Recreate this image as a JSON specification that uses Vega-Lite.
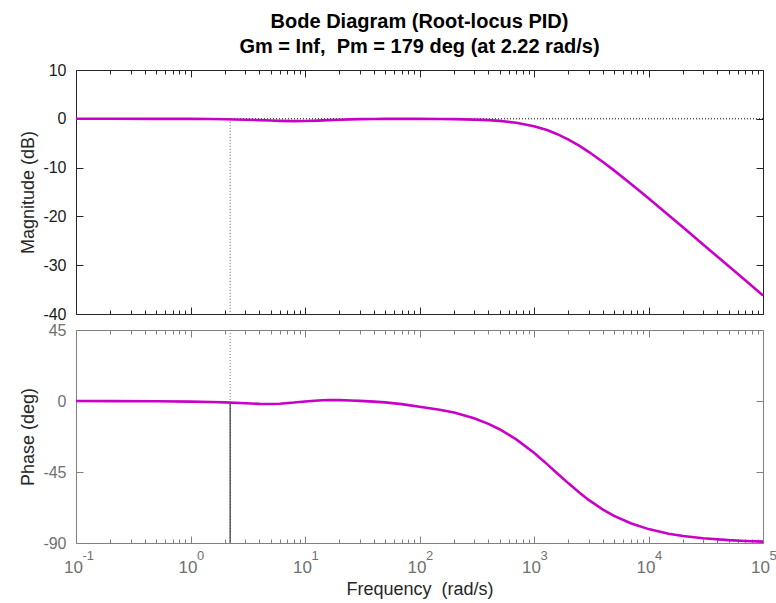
{
  "$schema": "https://vega.github.io/schema/vega-lite/v6.json",
  "autosize": {"type": "pad"},
  "padding": {"left": 19, "top": 12, "right": 2, "bottom": 2},
  "spacing": 0,
  "datasets": {
    "bode": [
      {"w": 0.1, "mag": 0, "phase": 0},
      {"w": 0.2, "mag": 0, "phase": -0.05},
      {"w": 0.5, "mag": -0.01, "phase": -0.15},
      {"w": 1, "mag": -0.02, "phase": -0.4},
      {"w": 1.5, "mag": -0.05, "phase": -0.65},
      {"w": 2, "mag": -0.09, "phase": -0.9},
      {"w": 3, "mag": -0.18, "phase": -1.4},
      {"w": 4, "mag": -0.28, "phase": -1.8},
      {"w": 5, "mag": -0.36, "phase": -1.9},
      {"w": 6, "mag": -0.42, "phase": -1.7},
      {"w": 8, "mag": -0.48, "phase": -1.0},
      {"w": 10, "mag": -0.46, "phase": -0.3},
      {"w": 13, "mag": -0.38, "phase": 0.3},
      {"w": 16, "mag": -0.28, "phase": 0.6},
      {"w": 20, "mag": -0.18, "phase": 0.55},
      {"w": 25, "mag": -0.11, "phase": 0.35},
      {"w": 30, "mag": -0.07, "phase": 0.1},
      {"w": 40, "mag": -0.03, "phase": -0.4},
      {"w": 50, "mag": -0.02, "phase": -0.9},
      {"w": 70, "mag": -0.02, "phase": -2.0},
      {"w": 100, "mag": -0.02, "phase": -3.7},
      {"w": 150, "mag": -0.04, "phase": -5.5},
      {"w": 200, "mag": -0.07, "phase": -7.35},
      {"w": 300, "mag": -0.16, "phase": -10.95},
      {"w": 400, "mag": -0.28, "phase": -14.5},
      {"w": 500, "mag": -0.43, "phase": -17.9},
      {"w": 700, "mag": -0.81, "phase": -24.3},
      {"w": 1000, "mag": -1.51, "phase": -32.8},
      {"w": 1300, "mag": -2.31, "phase": -40.0},
      {"w": 1600, "mag": -3.15, "phase": -45.9},
      {"w": 2000, "mag": -4.26, "phase": -52.2},
      {"w": 2500, "mag": -5.56, "phase": -58.2},
      {"w": 3000, "mag": -6.76, "phase": -62.7},
      {"w": 4000, "mag": -8.84, "phase": -68.8},
      {"w": 5000, "mag": -10.57, "phase": -72.8},
      {"w": 7000, "mag": -13.3, "phase": -77.5},
      {"w": 10000, "mag": -16.29, "phase": -81.2},
      {"w": 15000, "mag": -19.76, "phase": -84.1},
      {"w": 20000, "mag": -22.24, "phase": -85.6},
      {"w": 30000, "mag": -25.75, "phase": -87.0},
      {"w": 50000, "mag": -30.18, "phase": -88.2},
      {"w": 70000, "mag": -33.1, "phase": -88.7},
      {"w": 100000, "mag": -36.19, "phase": -89.1}
    ],
    "margin": [
      {"w": 2.22, "mag": 0, "magLow": -40, "phase": -1.0, "phaseTop": 45, "phaseLow": -90}
    ],
    "zero": [
      {"mag": 0}
    ]
  },
  "vconcat": [
    {
      "title": {
        "text": ["Bode Diagram (Root-locus PID)", "Gm = Inf,\u00a0 Pm = 179 deg (at 2.22 rad/s)"],
        "frame": "group",
        "anchor": "middle",
        "fontSize": 20,
        "fontWeight": "bold",
        "color": "#000000",
        "lineHeight": 25,
        "offset": 5
      },
      "width": 687,
      "height": 244,
      "layer": [
        {
          "data": {"name": "zero"},
          "mark": {"type": "rule", "color": "#000000", "strokeWidth": 1, "strokeDash": [1, 2]},
          "encoding": {
            "y": {"field": "mag", "type": "quantitative", "scale": {"domain": [-40, 10]}, "axis": null}
          }
        },
        {
          "data": {"name": "margin"},
          "mark": {"type": "rule", "color": "#555555", "strokeWidth": 1, "strokeDash": [1, 2]},
          "encoding": {
            "x": {"field": "w", "type": "quantitative", "scale": {"type": "log", "domain": [0.1, 100000], "nice": false},
              "axis": {"orient": "top", "title": null, "labels": false,
                "values": [0.1,0.2,0.3,0.4,0.5,0.6,0.7,0.8,0.9,1,2,3,4,5,6,7,8,9,10,20,30,40,50,60,70,80,90,100,200,300,400,500,600,700,800,900,1000,2000,3000,4000,5000,6000,7000,8000,9000,10000,20000,30000,40000,50000,60000,70000,80000,90000,100000],
                "tickSize": {"condition": {"test": "abs(log(datum.value)/LN10 - round(log(datum.value)/LN10)) < 0.001", "value": -7}, "value": -4},
                "domainColor": "#262626", "tickColor": "#262626"}},
            "y": {"field": "mag", "type": "quantitative", "scale": {"domain": [-40, 10]},
              "axis": {"orient": "right", "title": null, "labels": false, "values": [-40, -30, -20, -10, 0, 10],
                "tickSize": -7, "domainColor": "#262626", "tickColor": "#262626"}},
            "y2": {"field": "magLow"}
          }
        },
        {
          "data": {"name": "bode"},
          "mark": {"type": "line", "color": "#C800C8", "strokeWidth": 2.6},
          "encoding": {
            "x": {"field": "w", "type": "quantitative", "scale": {"type": "log", "domain": [0.1, 100000], "nice": false},
              "axis": {"orient": "bottom", "title": null, "labels": false,
                "values": [0.1,0.2,0.3,0.4,0.5,0.6,0.7,0.8,0.9,1,2,3,4,5,6,7,8,9,10,20,30,40,50,60,70,80,90,100,200,300,400,500,600,700,800,900,1000,2000,3000,4000,5000,6000,7000,8000,9000,10000,20000,30000,40000,50000,60000,70000,80000,90000,100000],
                "tickSize": {"condition": {"test": "abs(log(datum.value)/LN10 - round(log(datum.value)/LN10)) < 0.001", "value": -7}, "value": -4},
                "domainColor": "#262626", "tickColor": "#262626"}},
            "y": {"field": "mag", "type": "quantitative", "scale": {"domain": [-40, 10]},
              "axis": {"orient": "left", "title": "Magnitude (dB)", "values": [-40, -30, -20, -10, 0, 10],
                "labelExpr": "'' + datum.value", "labelFontSize": 16,
                "tickSize": -7, "labelPadding": 17, "titlePadding": 5,
                "domainColor": "#262626", "tickColor": "#262626", "labelColor": "#1a1a1a", "titleColor": "#262626"}}
          }
        }
      ],
      "resolve": {"axis": {"x": "independent", "y": "independent"}}
    },
    {
      "width": 687,
      "height": 213,
      "layer": [
        {
          "data": {"name": "margin"},
          "mark": {"type": "rule", "color": "#707070", "strokeWidth": 1, "strokeDash": [1, 2]},
          "encoding": {
            "x": {"field": "w", "type": "quantitative", "scale": {"type": "log", "domain": [0.1, 100000], "nice": false},
              "axis": {"orient": "top", "title": null, "labels": false,
                "values": [0.1,0.2,0.3,0.4,0.5,0.6,0.7,0.8,0.9,1,2,3,4,5,6,7,8,9,10,20,30,40,50,60,70,80,90,100,200,300,400,500,600,700,800,900,1000,2000,3000,4000,5000,6000,7000,8000,9000,10000,20000,30000,40000,50000,60000,70000,80000,90000,100000],
                "tickSize": {"condition": {"test": "abs(log(datum.value)/LN10 - round(log(datum.value)/LN10)) < 0.001", "value": -7}, "value": -4},
                "domainColor": "#808080", "tickColor": "#808080"}},
            "y": {"field": "phaseTop", "type": "quantitative", "scale": {"domain": [-90, 45]},
              "axis": {"orient": "right", "title": null, "labels": false, "values": [-90, -45, 0, 45],
                "tickSize": -7, "domainColor": "#808080", "tickColor": "#808080"}},
            "y2": {"field": "phaseLow"}
          }
        },
        {
          "data": {"name": "margin"},
          "mark": {"type": "rule", "color": "#3a3a3a", "strokeWidth": 1.2},
          "encoding": {
            "x": {"field": "w", "type": "quantitative", "scale": {"type": "log", "domain": [0.1, 100000], "nice": false},
              "axis": {"orient": "bottom", "title": null, "domain": false, "ticks": false,
                "values": [0.1, 1, 10, 100, 1000, 10000, 100000],
                "labelExpr": "datum.value == 0.1 ? '-1' : datum.value == 1 ? '0' : datum.value == 10 ? '1' : datum.value == 100 ? '2' : datum.value == 1000 ? '3' : datum.value == 10000 ? '4' : '5'",
                "labelFontSize": 13, "labelAlign": "left", "labelOffset": 6, "labelPadding": 6,
                "labelOverlap": false, "labelFlush": false, "labelColor": "#707070"}},
            "y": {"field": "phase", "type": "quantitative", "scale": {"domain": [-90, 45]}, "axis": null},
            "y2": {"field": "phaseLow"}
          }
        },
        {
          "data": {"name": "bode"},
          "mark": {"type": "line", "color": "#C800C8", "strokeWidth": 2.6},
          "encoding": {
            "x": {"field": "w", "type": "quantitative", "scale": {"type": "log", "domain": [0.1, 100000], "nice": false},
              "axis": {"orient": "bottom", "title": "Frequency\u00a0 (rad/s)",
                "values": [0.1,0.2,0.3,0.4,0.5,0.6,0.7,0.8,0.9,1,2,3,4,5,6,7,8,9,10,20,30,40,50,60,70,80,90,100,200,300,400,500,600,700,800,900,1000,2000,3000,4000,5000,6000,7000,8000,9000,10000,20000,30000,40000,50000,60000,70000,80000,90000,100000],
                "labelExpr": "abs(log(datum.value)/LN10 - round(log(datum.value)/LN10)) < 0.001 ? '10' : ''",
                "labelOverlap": false,
                "labelFlush": false,
                "labelOffset": -3,
                "tickSize": {"condition": {"test": "abs(log(datum.value)/LN10 - round(log(datum.value)/LN10)) < 0.001", "value": -7}, "value": -4},
                "labelPadding": 23, "titlePadding": 2,
                "domainColor": "#808080", "tickColor": "#808080", "labelColor": "#707070", "titleColor": "#262626"}},
            "y": {"field": "phase", "type": "quantitative", "scale": {"domain": [-90, 45]},
              "axis": {"orient": "left", "title": "Phase (deg)", "values": [-90, -45, 0, 45],
                "labelExpr": "'' + datum.value", "labelFontSize": 16,
                "tickSize": -7, "labelPadding": 17, "titlePadding": 5,
                "domainColor": "#808080", "tickColor": "#808080", "labelColor": "#707070", "titleColor": "#262626"}}
          }
        }
      ],
      "resolve": {"axis": {"x": "independent", "y": "independent"}}
    }
  ],
  "config": {
    "font": "Liberation Sans",
    "view": {"stroke": null},
    "axis": {
      "grid": false,
      "labelFont": "Liberation Sans",
      "titleFont": "Liberation Sans",
      "labelFontSize": 17,
      "titleFontSize": 18,
      "titleFontWeight": "normal",
      "domainWidth": 1,
      "tickWidth": 1
    },
    "title": {"font": "Liberation Sans"}
  }
}
